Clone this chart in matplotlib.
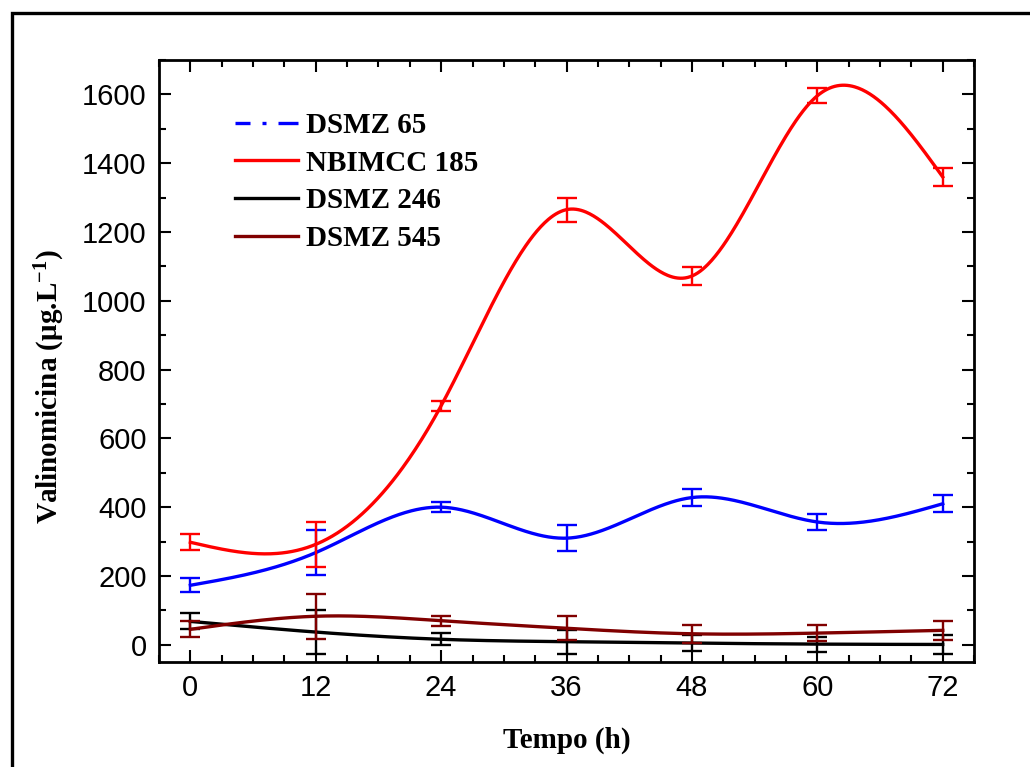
import numpy as np
import matplotlib
matplotlib.use("Agg")
import matplotlib.pyplot as plt
from matplotlib.lines import Line2D
from matplotlib.patches import Rectangle
from matplotlib.ticker import MultipleLocator

# ---- data ----
tempo = [0, 12, 24, 36, 48, 60, 72]
labels = ["DSMZ 65", "NBIMCC 185", "DSMZ 246", "DSMZ 545"]
dsmz65 = [173, 268, 400, 310, 428, 357, 410]
dsmz65_err = [20, 65, 15, 37, 25, 23, 25]
nbimcc185 = [298, 292, 695, 1265, 1072, 1596, 1360]
nbimcc185_err = [23, 65, 15, 35, 25, 22, 27]
dsmz246 = [68, 37, 16, 9, 5, 2, 1]
dsmz246_err = [23, 65, 17, 35, 24, 22, 28]
dsmz545 = [45, 83, 70, 48, 32, 34, 42]
dsmz545_err = [23, 65, 15, 35, 26, 23, 28]
colors = ["#0000FF", "#FF0000", "#000000", "#800000"]

x_ticks = [0, 12, 24, 36, 48, 60, 72]
y_ticks = [0, 200, 400, 600, 800, 1000, 1200, 1400, 1600]


def natural_spline(x, y, xs):
    x = np.asarray(x, float)
    y = np.asarray(y, float)
    n = len(x)
    h = np.diff(x)
    A = np.zeros((n, n))
    b = np.zeros(n)
    A[0, 0] = 1
    A[-1, -1] = 1
    for i in range(1, n - 1):
        A[i, i - 1] = h[i - 1]
        A[i, i] = 2 * (h[i - 1] + h[i])
        A[i, i + 1] = h[i]
        b[i] = 6 * ((y[i + 1] - y[i]) / h[i] - (y[i] - y[i - 1]) / h[i - 1])
    M = np.linalg.solve(A, b)
    idx = np.clip(np.searchsorted(x, xs) - 1, 0, n - 2)
    x0, x1 = x[idx], x[idx + 1]
    hh = x1 - x0
    t0 = x1 - xs
    t1 = xs - x0
    return (M[idx] * t0 ** 3 / (6 * hh) + M[idx + 1] * t1 ** 3 / (6 * hh)
            + (y[idx] / hh - M[idx] * hh / 6) * t0
            + (y[idx + 1] / hh - M[idx + 1] * hh / 6) * t1)


plt.rcParams['mathtext.fontset'] = 'custom'
plt.rcParams['mathtext.rm'] = 'Liberation Serif:bold'
plt.rcParams['mathtext.bf'] = 'Liberation Serif:bold'
plt.rcParams['mathtext.it'] = 'Liberation Serif:bold'

fig = plt.figure(figsize=(10.3, 7.67), dpi=100)
ax = fig.add_axes([0.1544, 0.1369, 0.7913, 0.7849])

series = [(dsmz65, dsmz65_err), (nbimcc185, nbimcc185_err),
          (dsmz246, dsmz246_err), (dsmz545, dsmz545_err)]
xs = np.linspace(min(tempo), max(tempo), 600)
for (vals, errs), c in zip(series, colors):
    ax.plot(xs, natural_spline(tempo, vals, xs), color=c, lw=2.4)
    ax.errorbar(tempo, vals, yerr=errs, fmt='none', ecolor=c, elinewidth=1.7,
                capsize=7.5, capthick=1.7)

ax.set_xlim(-3, 75)
ax.set_ylim(-50, 1700)
ax.set_xticks(x_ticks)
ax.set_yticks(y_ticks)
ax.xaxis.set_minor_locator(MultipleLocator(3))
ax.yaxis.set_minor_locator(MultipleLocator(100))
ax.tick_params(which='both', direction='in', top=True, right=True, width=1.5)
ax.tick_params(which='major', length=8.5, pad=9)
ax.tick_params(which='minor', length=5)
for lab in ax.get_xticklabels() + ax.get_yticklabels():
    lab.set_fontfamily('Liberation Sans')
    lab.set_fontsize(21)
for s in ax.spines.values():
    s.set_linewidth(2)

ax.set_xlabel("Tempo (h)", fontfamily='Liberation Serif', fontweight='bold', fontsize=21)
ax.set_ylabel("Valinomicina (μg.L$^{\\mathrm{-1}}$)", fontfamily='Liberation Serif',
              fontweight='bold', fontsize=21)
ax.xaxis.set_label_coords(0.5, -0.108)
ax.yaxis.set_label_coords(-0.113, 0.458)

handles = [
    Line2D([], [], color=colors[0], lw=2.4, ls=(1.5, (6.0, 3.6, 1.2, 3.6))),
    Line2D([], [], color=colors[1], lw=2.4),
    Line2D([], [], color=colors[2], lw=2.4),
    Line2D([], [], color=colors[3], lw=2.4),
]
ax.legend(handles, labels, loc='upper left', bbox_to_anchor=(235 / 1030, 1 - 112 / 767),
          bbox_transform=fig.transFigure, frameon=False, borderpad=0, borderaxespad=0,
          handlelength=2.15, handletextpad=0.3, labelspacing=0.365,
          prop={'family': 'Liberation Serif', 'weight': 'bold', 'size': 21})

fig.add_artist(Rectangle((12 / 1030, -0.1), 1.2, 1.1 - 12.5 / 767, transform=fig.transFigure,
                         fill=False, lw=2.4, edgecolor='black'))

fig.savefig("out.png", dpi=100)
